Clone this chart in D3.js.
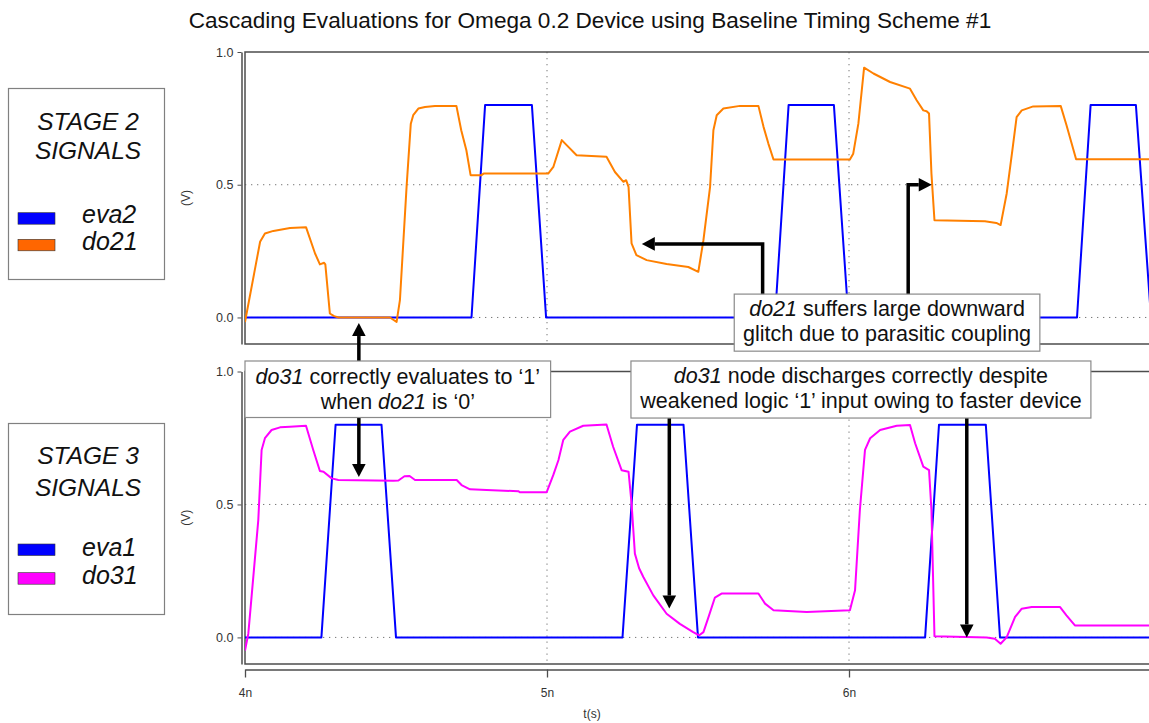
<!DOCTYPE html>
<html><head><meta charset="utf-8">
<script src="https://cdn.jsdelivr.net/npm/d3@7"></script>
<style>
html,body{margin:0;padding:0;background:#fff;}
svg{display:block;font-family:"Liberation Sans",Arial,sans-serif;}
</style></head>
<body>
<svg id="c" width="1149" height="723"></svg>
<script>
// ---- data (time in ns, value in V) ----
const xTicks = [4, 5, 6];
const yTicks = [0.0, 0.5, 1.0];
const gridY = [0.0, 0.5];
const gridX = [5, 6];

const eva2 = [[4,0],[4.75,0],[4.795,0.8],[4.95,0.8],[4.997,0],[5.755,0],[5.8,0.8],[5.95,0.8],[5.998,0],[6.755,0],[6.8,0.8],[6.95,0.8],[7.0,0]];
const eva1 = [[4,0],[4.253,0],[4.3,0.8],[4.452,0.8],[4.5,0],[5.25,0],[5.298,0.8],[5.452,0.8],[5.5,0],[6.252,0],[6.298,0.8],[6.453,0.8],[6.5,0],[7,0]];
const do21 = [[4.0,-0.017],[4.05,0.285],[4.066,0.316],[4.094,0.326],[4.149,0.337],[4.202,0.340],[4.232,0.241],[4.248,0.200],[4.262,0.206],[4.266,0.200],[4.281,0.015],[4.295,0.005],[4.31,0.0],[4.48,0.0],[4.502,-0.017],[4.513,0.065],[4.535,0.492],[4.549,0.730],[4.557,0.762],[4.574,0.787],[4.596,0.793],[4.629,0.797],[4.700,0.797],[4.716,0.705],[4.733,0.630],[4.747,0.536],[4.783,0.536],[4.79,0.542],[5.004,0.542],[5.021,0.567],[5.049,0.668],[5.065,0.649],[5.098,0.611],[5.197,0.605],[5.225,0.548],[5.253,0.511],[5.262,0.517],[5.270,0.492],[5.280,0.279],[5.296,0.235],[5.330,0.216],[5.396,0.201],[5.468,0.190],[5.501,0.172],[5.518,0.291],[5.540,0.492],[5.551,0.705],[5.562,0.762],[5.584,0.787],[5.639,0.797],[5.700,0.797],[5.717,0.718],[5.733,0.655],[5.750,0.595],[6.003,0.595],[6.014,0.617],[6.031,0.73],[6.050,0.941],[6.081,0.919],[6.136,0.887],[6.202,0.862],[6.224,0.818],[6.246,0.780],[6.257,0.777],[6.265,0.768],[6.273,0.542],[6.283,0.366],[6.450,0.362],[6.488,0.356],[6.502,0.348],[6.522,0.466],[6.541,0.63],[6.555,0.755],[6.572,0.78],[6.61,0.795],[6.701,0.797],[6.72,0.725],[6.752,0.596],[7.0,0.596]];
const do31 = [[4.0,-0.049],[4.011,0.014],[4.044,0.441],[4.055,0.705],[4.066,0.749],[4.088,0.780],[4.116,0.790],[4.149,0.792],[4.202,0.796],[4.226,0.705],[4.248,0.626],[4.26,0.623],[4.287,0.598],[4.309,0.592],[4.491,0.589],[4.508,0.590],[4.528,0.606],[4.545,0.607],[4.563,0.592],[4.701,0.592],[4.717,0.573],[4.745,0.557],[4.800,0.554],[4.905,0.550],[4.91,0.546],[4.999,0.546],[5.021,0.611],[5.038,0.667],[5.054,0.743],[5.076,0.774],[5.120,0.796],[5.197,0.801],[5.219,0.717],[5.247,0.629],[5.270,0.623],[5.280,0.504],[5.291,0.315],[5.305,0.26],[5.319,0.227],[5.352,0.158],[5.396,0.089],[5.440,0.051],[5.484,0.020],[5.504,0.008],[5.518,0.020],[5.535,0.077],[5.556,0.150],[5.578,0.165],[5.700,0.165],[5.722,0.127],[5.750,0.102],[5.860,0.096],[6.003,0.102],[6.020,0.177],[6.036,0.479],[6.053,0.705],[6.070,0.749],[6.103,0.780],[6.158,0.796],[6.202,0.799],[6.219,0.730],[6.246,0.642],[6.265,0.629],[6.273,0.479],[6.283,0.004],[6.456,0.0],[6.483,-0.005],[6.502,-0.024],[6.522,0.0],[6.550,0.077],[6.572,0.108],[6.605,0.114],[6.699,0.114],[6.72,0.083],[6.748,0.045],[7.0,0.045]];

const titleText = "Cascading Evaluations for Omega 0.2 Device using Baseline Timing Scheme #1";
const legendTop = {title:["STAGE 2","SIGNALS"], names:["eva2","do21"], colors:["#0000ff","#ff6600"]};
const legendBot = {title:["STAGE 3","SIGNALS"], names:["eva1","do31"], colors:["#0000ff","#ff00ff"]};

// ---- layout ----
const svg = d3.select("#c");
const x = d3.scaleLinear().domain([4,7]).range([245,1151]);
const yTop = d3.scaleLinear().domain([-0.1,1.0]).range([344,52]);
const yBot = d3.scaleLinear().domain([-0.1,1.0]).range([664,371.5]);
const FRAME = "#4d4d4d";

svg.append("text").attr("x",590).attr("y",28).attr("text-anchor","middle")
  .attr("font-size",22.6).attr("fill","#111").text(titleText);

function panel(y, lines){
  const g = svg.append("g");
  const [y0,y1] = [y.range()[1], y.range()[0]];
  g.selectAll(".gh").data(gridY).join("line")
    .attr("x1",x.range()[0]).attr("x2",x.range()[1]).attr("y1",d=>y(d)).attr("y2",d=>y(d))
    .attr("stroke","#777").attr("stroke-width",1).attr("stroke-dasharray","1.3,4.7");
  g.selectAll(".gv").data(gridX).join("line")
    .attr("x1",d=>x(d)).attr("x2",d=>x(d)).attr("y1",y0).attr("y2",y1)
    .attr("stroke","#777").attr("stroke-width",1).attr("stroke-dasharray","1.3,4.7");
  g.append("rect").attr("x",x.range()[0]).attr("y",y0).attr("width",x.range()[1]-x.range()[0]).attr("height",y1-y0)
    .attr("fill","none").attr("stroke",FRAME).attr("stroke-width",1.5);
  const ax = g.append("g").attr("transform","translate(241.5,0)")
    .call(d3.axisLeft(y).tickValues(yTicks).tickFormat(d3.format(".1f")).tickSize(4).tickSizeOuter(0).tickPadding(4));
  ax.select(".domain").attr("stroke",FRAME).attr("stroke-width",1.5);
  ax.selectAll(".tick line").attr("stroke",FRAME);
  ax.selectAll(".tick text").attr("font-size",12.5).attr("fill","#333").attr("font-family","Liberation Sans, Arial, sans-serif");
  g.append("text").attr("transform",`translate(189.5,${(y0+y1)/2}) rotate(-90)`).attr("text-anchor","middle")
    .attr("font-size",12).attr("fill","#333").text("(V)");
  const clipId = "clip"+Math.round(y0);
  svg.append("clipPath").attr("id",clipId).append("rect").attr("x",x.range()[0]).attr("y",y0-10).attr("width",x.range()[1]-x.range()[0]).attr("height",y1-y0+10);
  const line = d3.line().x(d=>x(d[0])).y(d=>y(d[1]));
  lines.forEach(([data,color])=>{
    g.append("path").datum(data).attr("d",line).attr("fill","none").attr("stroke",color)
      .attr("stroke-width",2).attr("stroke-linejoin","round").attr("clip-path",`url(#${clipId})`);
  });
}
panel(yTop, [[eva2,"#0000ff"],[do21,"#ff8000"]]);
panel(yBot, [[eva1,"#0000ff"],[do31,"#ff00ff"]]);

// x axis
const xa = svg.append("g").attr("transform","translate(0,669.5)")
  .call(d3.axisBottom(x).tickValues(xTicks).tickFormat(d=>d+"n").tickSize(8).tickSizeOuter(0).tickPadding(11));
xa.select(".domain").attr("stroke",FRAME).attr("stroke-width",1.5);
xa.selectAll(".tick line").attr("stroke",FRAME).attr("stroke-width",1.3);
xa.selectAll(".tick text").attr("font-size",12).attr("fill","#333").attr("font-family","Liberation Sans Narrow, Liberation Sans, Arial, sans-serif");
svg.append("text").attr("x",x(5.149)).attr("y",718).attr("text-anchor","middle").attr("font-size",12).attr("fill","#333")
  .attr("font-family","Liberation Sans Narrow, Liberation Sans, Arial, sans-serif").text("t(s)");

// legends
function legend(L, top, o){
  const g = svg.append("g");
  g.append("rect").attr("x",8.5).attr("y",top).attr("width",156).attr("height",191).attr("fill","#fff").attr("stroke","#808080").attr("stroke-width",1.2);
  L.title.forEach((t,i)=>g.append("text").attr("x",88).attr("y",top+o.title[i]).attr("text-anchor","middle")
    .attr("font-size",24.5).attr("font-style","italic").attr("fill","#111").text(t));
  L.names.forEach((n,i)=>{
    g.append("rect").attr("x",18).attr("y",top+o.sw[i]).attr("width",37).attr("height",11.5)
      .attr("fill",L.colors[i]).attr("stroke","#333").attr("stroke-width",0.6);
    g.append("text").attr("x",82).attr("y",top+o.lab[i]).attr("font-size",25).attr("font-style","italic").attr("fill","#111").text(n);
  });
}
legend(legendTop, 88.5, {title:[41.5,70.5], sw:[124.2,150.8], lab:[134.8,161.5]});
legend(legendBot, 423.5, {title:[40.5,72.5], sw:[120.5,149.2], lab:[132.2,160.5]});

// annotation arrows
const AW = 3.5;
function arrow(pts, color="#000"){
  const p = pts.map(([t,v,yy])=>[x(t), yy(v)]);
  const n = p.length, [ax1,ay1] = p[n-2], [bx,by] = p[n-1];
  const ang = Math.atan2(by-ay1, bx-ax1), L=13, Wd=6.8;
  const sx = bx - L*Math.cos(ang), sy = by - L*Math.sin(ang);
  const shaft = p.slice(0,n-1).concat([[sx,sy]]);
  svg.append("path").attr("d", d3.line()(shaft)).attr("fill","none").attr("stroke",color).attr("stroke-width",AW).attr("stroke-linejoin","miter");
  const px = -Math.sin(ang), py = Math.cos(ang);
  svg.append("path").attr("d", d3.line()([[bx,by],[sx+px*Wd,sy+py*Wd],[sx-px*Wd,sy-py*Wd]])+"Z").attr("fill",color);
}
arrow([[4.377,0.95,yBot],[4.377,-0.021,yTop]]);
arrow([[4.377,0.9,yBot],[4.377,0.603,yBot]]);
arrow([[5.714,0.05,yTop],[5.714,0.277,yTop],[5.314,0.277,yTop]]);
arrow([[6.196,0.05,yTop],[6.196,0.5,yTop],[6.274,0.5,yTop]]);
arrow([[5.405,0.9,yBot],[5.405,0.109,yBot]]);
arrow([[6.39,0.9,yBot],[6.39,0.0,yBot]]);

// annotation boxes
function box(t0,t1,top,bottom,lines,bases){
  const g = svg.append("g");
  g.append("rect").attr("x",x(t0)).attr("y",top).attr("width",x(t1)-x(t0)).attr("height",bottom-top)
    .attr("fill","#fff").attr("stroke","#8a8a8a").attr("stroke-width",1.2);
  lines.forEach((segs,i)=>{
    const tx = g.append("text").attr("x",(x(t0)+x(t1))/2).attr("y",bases[i]).attr("text-anchor","middle")
      .attr("font-size",21.5).attr("fill","#111");
    segs.forEach(s=>tx.append("tspan").attr("font-style",s[1]?"italic":"normal").text(s[0]));
  });
}
box(4.0, 5.012, yBot(1.0395), yBot(0.827),
  [[["do31",1],[" correctly evaluates to \u20181\u2019",0]],[["when ",0],["do21",1],[" is \u20180\u2019",0]]], [384,409]);
box(5.62, 6.632, yTop(0.088), yTop(-0.127),
  [[["do21",1],[" suffers large downward",0]],[["glitch due to parasitic coupling",0]]], [316,341]);
box(5.278, 6.801, yBot(1.0395), yBot(0.825),
  [[["do31",1],[" node discharges correctly despite",0]],[["weakened logic \u20181\u2019 input owing to faster device",0]]], [383,408]);
</script>
</body></html>
